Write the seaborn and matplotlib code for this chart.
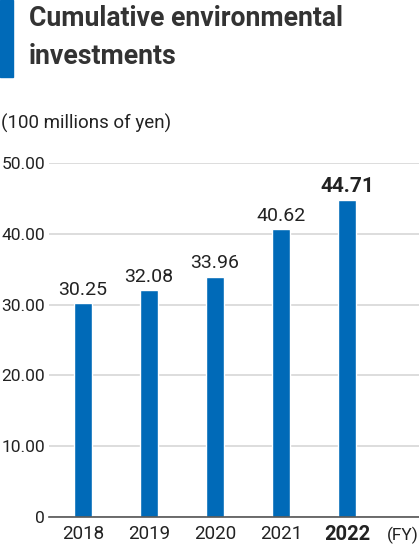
import matplotlib
matplotlib.use("Agg")
import matplotlib.pyplot as plt
import matplotlib.patches as mpatches
import seaborn as sns
import pandas as pd

# Data
years = ["2018", "2019", "2020", "2021", "2022"]
investments = [30.25, 32.08, 33.96, 40.62, 44.71]
y_ticks = [0, 10, 20, 30, 40, 50]
y_tick_labels = ["0", "10.00", "20.00", "30.00", "40.00", "50.00"]

df = pd.DataFrame({"year": years, "value": investments})

sns.set_style("white")
plt.rcParams["font.family"] = ["Roboto", "DejaVu Sans"]

bar_color = "#006AB8"
text_color = "#222222"

fig = plt.figure(figsize=(4.19, 5.46), dpi=100)
ax = fig.add_axes([0.117, 0.0531, 0.883, 0.6484])

sns.barplot(data=df, x="year", y="value", color=bar_color, width=0.27,
            saturation=1, ax=ax)

ax.set_xlim(-0.515, 5.09)
ax.set_ylim(0, 50)
ax.set_yticks(y_ticks)
ax.set_yticklabels(y_tick_labels)
ax.set_xlabel("")
ax.set_ylabel("")
ax.yaxis.grid(True, color="#dddddd", linewidth=1.4)
ax.set_axisbelow(True)
for s in ["top", "right", "left"]:
    ax.spines[s].set_visible(False)
ax.spines["bottom"].set_color("#555555")
ax.spines["bottom"].set_linewidth(1.2)
ax.tick_params(axis="both", length=0, colors=text_color)
ax.tick_params(axis="y", pad=3)
ax.tick_params(axis="x", pad=6)
for lbl in ax.get_yticklabels():
    lbl.set_fontsize(12.5)
xl = ax.get_xticklabels()
for lbl in xl:
    lbl.set_fontsize(13.5)
xl[-1].set_fontweight("bold")
xl[-1].set_fontsize(14.5)

# Value labels
for i, v in enumerate(investments):
    last = i == len(investments) - 1
    ax.annotate(f"{v:.2f}", (i, v), xytext=(0, 3), textcoords="offset points",
                ha="center", va="bottom", color=text_color,
                fontsize=15 if last else 14,
                fontweight="bold" if last else "normal")

# (FY) label
fig.text(403 / 419, 1 - 535 / 546, "(FY)", ha="center", va="center",
         fontsize=12.5, color=text_color)

# Title block
fig.patches.append(mpatches.Rectangle((0, 1 - 77 / 546), 13 / 419, 77 / 546,
                                      transform=fig.transFigure, color=bar_color,
                                      zorder=5))
fig.text(29 / 419, 1 - 19 / 546, "Cumulative environmental", ha="left", va="center",
         fontsize=19.2, fontweight="bold", color="#333333")
fig.text(29 / 419, 1 - 57 / 546, "investments", ha="left", va="center",
         fontsize=19.2, fontweight="bold", color="#333333")
fig.text(0.002, 1 - 123 / 546, "(100 millions of yen)", ha="left", va="center",
         fontsize=13.5, color=text_color)

fig.savefig("out.png", dpi=100)
